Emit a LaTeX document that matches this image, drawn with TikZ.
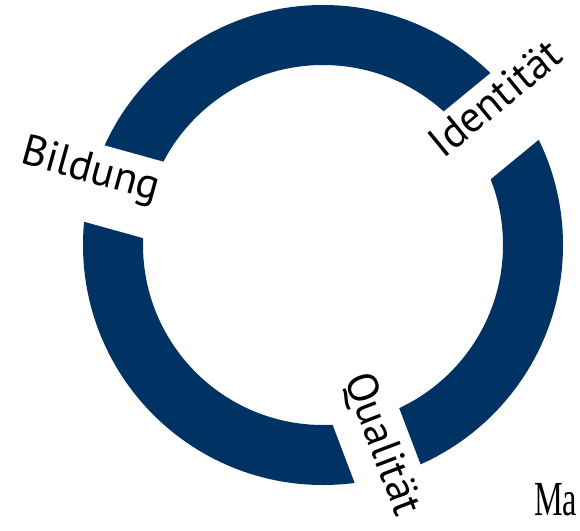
\documentclass[tikz,border=0pt]{standalone}
\usepackage{fontspec}
\newfontfamily\labelfont{PT Sans}
\newfontfamily\mafont{Liberation Serif}
\definecolor{ringblue}{RGB}{0,51,99}
\begin{document}
\begin{tikzpicture}[x=1pt,y=-1pt,
  band/.style={fill=white, draw=none, inner sep=0pt, minimum width=260pt},
  lbl/.style={font=\labelfont\fontsize{43}{46}\selectfont, inner sep=0pt,
    text height=0.7em, text depth=0pt, anchor=center}]
\useasboundingbox (0,0) rectangle (580,530);
\coordinate (c) at (323,245);
\fill[ringblue, even odd rule] (c) circle[radius=240pt] (c) circle[radius=180pt];
% gaps
\node[band, minimum height=79pt, rotate=-15.5] (gapB) at (87.7,181.7) {};
\node[band, minimum height=82pt, rotate=39.4] (gapI) at (506.9,112.7) {};
\node[band, minimum height=68pt, rotate=-69.2] (gapQ) at (377.2,446.2) {};
% labels
\node[lbl, rotate=-15.5] (tB) at (88.6,178.6) {Bildung};
\node[lbl, rotate=39.4] (tI) at (502,106.8) {Identität};
\node[lbl, rotate=-69.2] (tQ) at (373.7,447.5) {Qualität};
\node[anchor=base west, inner sep=0pt, font=\mafont\fontsize{49}{54}\selectfont] (ma) at (534,515) {\scalebox{0.66}[1]{Ma}};
\end{tikzpicture}
\end{document}
